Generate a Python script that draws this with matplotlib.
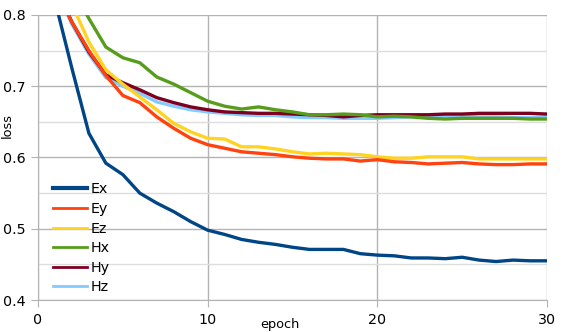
import matplotlib
matplotlib.use("Agg")
import matplotlib.pyplot as plt
from matplotlib.lines import Line2D
from matplotlib.ticker import MultipleLocator, FormatStrFormatter

plt.rcParams['font.family'] = ['DejaVu Sans']

epochs = list(range(1, 31))
ex = [0.82, 0.725, 0.634, 0.592, 0.576, 0.550, 0.536, 0.524, 0.510, 0.498,
      0.492, 0.485, 0.481, 0.478, 0.474, 0.471, 0.471, 0.471, 0.465, 0.463,
      0.462, 0.459, 0.459, 0.458, 0.460, 0.456, 0.454, 0.456, 0.455, 0.455]
ey = [0.84, 0.790, 0.750, 0.715, 0.687, 0.677, 0.657, 0.641, 0.627, 0.618,
      0.613, 0.608, 0.606, 0.604, 0.601, 0.599, 0.598, 0.598, 0.595, 0.597,
      0.594, 0.593, 0.591, 0.592, 0.593, 0.591, 0.590, 0.590, 0.591, 0.591]
ez = [0.86, 0.815, 0.762, 0.723, 0.703, 0.685, 0.667, 0.648, 0.636, 0.627,
      0.626, 0.615, 0.615, 0.612, 0.608, 0.605, 0.606, 0.605, 0.604, 0.601,
      0.599, 0.599, 0.601, 0.601, 0.601, 0.598, 0.598, 0.598, 0.598, 0.598]
hx = [0.90, 0.84, 0.795, 0.755, 0.740, 0.733, 0.713, 0.703, 0.691, 0.679,
      0.672, 0.668, 0.671, 0.667, 0.664, 0.660, 0.660, 0.661, 0.660, 0.657,
      0.658, 0.657, 0.655, 0.654, 0.655, 0.655, 0.655, 0.655, 0.654, 0.654]
hy = [0.84, 0.790, 0.748, 0.716, 0.705, 0.695, 0.684, 0.677, 0.671, 0.667,
      0.664, 0.663, 0.662, 0.662, 0.661, 0.660, 0.659, 0.657, 0.659, 0.660,
      0.660, 0.660, 0.660, 0.661, 0.661, 0.662, 0.662, 0.662, 0.662, 0.661]
hz = [0.84, 0.787, 0.745, 0.712, 0.700, 0.690, 0.678, 0.672, 0.667, 0.664,
      0.662, 0.660, 0.659, 0.659, 0.657, 0.656, 0.656, 0.655, 0.655, 0.655,
      0.656, 0.657, 0.657, 0.658, 0.658, 0.657, 0.657, 0.656, 0.656, 0.657]

names = ['Ex', 'Ey', 'Ez', 'Hx', 'Hy', 'Hz']
colors = ['#004586', '#ff420e', '#ffd320', '#579d1c', '#7e0021', '#83caff']
series = [ex, ey, ez, hx, hy, hz]
zorders = [8, 6, 5, 7, 4, 3]

fig = plt.figure(figsize=(5.68, 3.32), dpi=100)
ax = fig.add_axes([38/568, 1-300/332, 509/568, 285/332])

for s, c, z in zip(series, colors, zorders):
    ax.plot(epochs, s, color=c, lw=2.4, zorder=z, solid_joinstyle='round')

ax.set_xlim(0, 30)
ax.set_ylim(0.4, 0.8)
ax.xaxis.set_major_locator(MultipleLocator(10))
ax.yaxis.set_major_locator(MultipleLocator(0.1))
ax.yaxis.set_minor_locator(MultipleLocator(0.05))
ax.grid(which='major', color='#b3b3b3', lw=1)
ax.grid(which='minor', axis='y', color='#dddddd', lw=1)
ax.tick_params(which='minor', length=0)
ax.tick_params(which='major', direction='out', length=5, color='#b3b3b3',
               labelsize=10.3, pad=4)
ax.set_axisbelow(True)
for sp in ['top', 'right']:
    ax.spines[sp].set_visible(False)
for sp in ['left', 'bottom']:
    ax.spines[sp].set_color('#b3b3b3')
ax.yaxis.set_major_formatter(FormatStrFormatter('%.1f'))
ax.xaxis.set_major_formatter(FormatStrFormatter('%d'))

ax.set_xlabel('epoch', fontsize=9.3)
ax.xaxis.set_label_coords((280-38)/509, (300-318)/285)
ax.set_ylabel('loss', fontsize=9.3)
ax.yaxis.set_label_coords((14-38)/509, (300-125)/285)

handles = [Line2D([], [], color=c, lw=(3.0 if i == 0 else 2.0))
           for i, c in enumerate(colors)]
leg = ax.legend(handles, names, loc='lower left', bbox_to_anchor=(0.015, -0.005),
                frameon=False, fontsize=10.3, handlelength=2.4,
                handletextpad=0.25, labelspacing=0.39, borderaxespad=0.1)
leg.set_zorder(20)

fig.savefig('out.png', dpi=100)
